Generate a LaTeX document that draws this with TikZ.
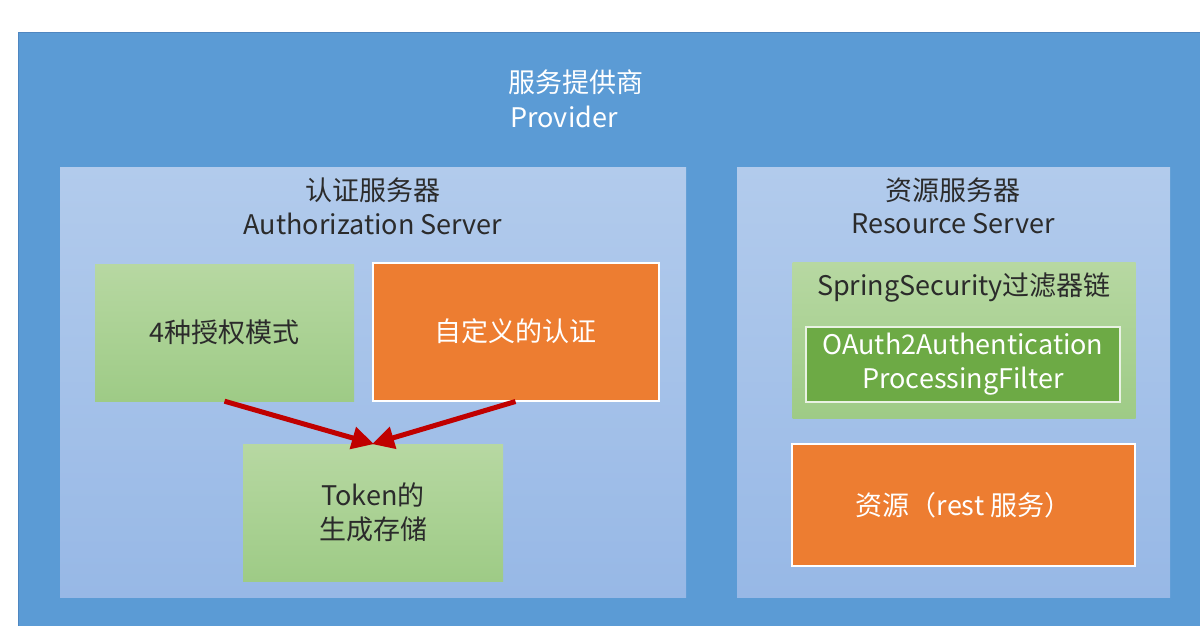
\documentclass[tikz,border=0pt]{standalone}
\usepackage{fontspec}
\setmainfont{Noto Sans CJK SC}
\usetikzlibrary{arrows.meta}
\definecolor{outerblue}{HTML}{5B9BD5}
\definecolor{outeredge}{HTML}{4F86C0}
\definecolor{paneltop}{HTML}{B2CBEC}
\definecolor{panelbot}{HTML}{97B8E6}
\definecolor{greentop}{HTML}{B7D8A2}
\definecolor{greenbot}{HTML}{9ECB86}
\definecolor{orangebox}{HTML}{ED7D31}
\definecolor{darkgreen}{HTML}{6DAA45}
\definecolor{arrowred}{HTML}{C00000}
\definecolor{darktext}{HTML}{2B2B2B}
\begin{document}
\begin{tikzpicture}[x=1pt,y=-1pt,
  txt/.style={font=\fontsize{27}{34}\selectfont, align=center, inner sep=0pt},
  panel/.style={rectangle, inner sep=0pt, top color=paneltop, bottom color=panelbot, draw=none},
  greenbox/.style={rectangle, inner sep=0pt, top color=greentop, bottom color=greenbot, draw=none, text=darktext, font=\fontsize{27}{34}\selectfont, align=center},
  orangebx/.style={rectangle, inner sep=0pt, fill=orangebox, draw=white, line width=2pt, text=white, font=\fontsize{27}{34}\selectfont, align=center},
  innergreen/.style={rectangle, inner sep=0pt, fill=darkgreen, draw=white!85!darkgreen, line width=2pt, text=white, font=\fontsize{27}{34}\selectfont, align=center},
  redarrow/.style={draw=arrowred, line width=5pt, -{Triangle[length=22pt,width=22pt]}, shorten >=-1pt}
]
\useasboundingbox (0,0) rectangle (1200,626);
\fill[white] (0,0) rectangle (1200,626);
\fill[outerblue] (18,32) rectangle (1210,640);
\draw[outeredge, line width=1pt] (18.5,640) -- (18.5,32.5) -- (1210,32.5);

% title
\node[txt, text=white] (t1) at (576,82) {服务提供商};
\node[txt, text=white] (t2) at (564,117) {Provider};

% panels
\node[panel, minimum width=626pt, minimum height=430pt] (left) at (373,382) {};
\node[panel, minimum width=433pt, minimum height=430pt] (right) at (953.5,382) {};

\node[txt, text=darktext] (lt1) at (373,190) {认证服务器};
\node[txt, text=darktext] (lt2) at (373,224) {Authorization Server};
\node[txt, text=darktext] (rt1) at (953,190) {资源服务器};
\node[txt, text=darktext] (rt2) at (953,224) {Resource Server};

% left boxes
\node[greenbox, minimum width=259pt, minimum height=137pt] (grant) at (224.5,332.5) {4种授权模式};
\node[orangebx, minimum width=286pt, minimum height=138pt] (custom) at (515.5,331.5) {自定义的认证};
\node[greenbox, minimum width=260pt, minimum height=137pt] (token) at (373,512.5) {Token的\\生成存储};

\draw[redarrow] (grant.south) -- (token.north);
\draw[redarrow] (custom.south) -- (token.north);

% right boxes
\node[greenbox, minimum width=343pt, minimum height=156pt] (chain) at (964,340) {};
\node[txt, text=darktext] (chaint) at (964,287) {SpringSecurity过滤器链};
\node[innergreen, minimum width=314pt, minimum height=75pt] (filter) at (963,364.5) {OAuth2Authentication\\ProcessingFilter};
\node[orangebx, minimum width=343pt, minimum height=122pt] (res) at (963.5,505) {资源（rest 服务）};
\end{tikzpicture}
\end{document}
